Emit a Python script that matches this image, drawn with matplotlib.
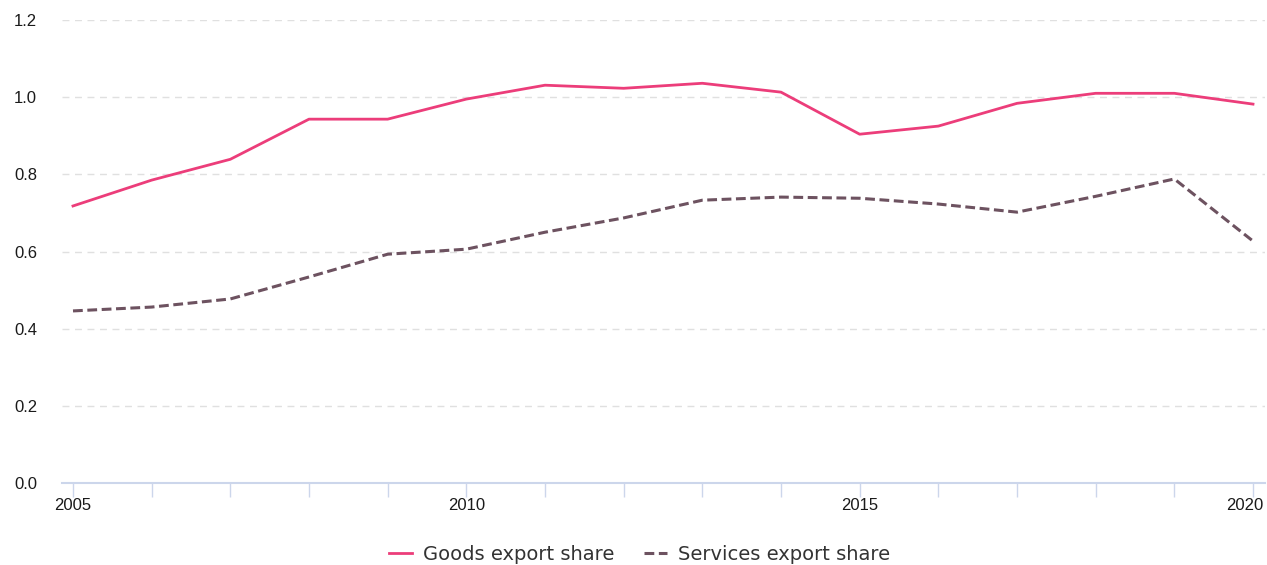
import matplotlib
matplotlib.use("Agg")
import matplotlib.pyplot as plt
from matplotlib.transforms import ScaledTranslation

years = list(range(2005, 2021))
goods = [0.718, 0.785, 0.839, 0.943, 0.943, 0.995, 1.031, 1.023, 1.036, 1.013,
         0.904, 0.925, 0.984, 1.010, 1.010, 0.982]
services = [0.446, 0.456, 0.477, 0.534, 0.593, 0.606, 0.650, 0.687, 0.733, 0.741,
            0.738, 0.723, 0.702, 0.743, 0.788, 0.627]
yticks = [0.0, 0.2, 0.4, 0.6, 0.8, 1.0, 1.2]
xlabels = [2005, 2010, 2015, 2020]

fig = plt.figure(figsize=(12.67, 5.65), dpi=100)
ax = fig.add_axes([62/1267, 1-483/565, (1265-62)/1267, (483-20)/565])

ax.plot(years, goods, color="#EC3D7A", lw=2.0, label="Goods export share", zorder=3)
ax.plot(years, services, color="#6D5260", lw=2.2, dashes=(3.2, 1.5), label="Services export share", zorder=3)

ax.set_ylim(0, 1.2)
ax.set_xlim(2005 - 11/78.67, 2020 + 12/78.67)
ax.set_yticks(yticks)
ax.set_yticklabels([f"{v:.1f}" for v in yticks], fontfamily="Liberation Sans", fontsize=12, color="#1a1a1a")
ax.set_xticks(years)
ax.set_xticklabels([str(y) if y in xlabels else "" for y in years],
                   fontfamily="Liberation Sans", fontsize=12, color="#1a1a1a")
ax.tick_params(axis="y", length=0, pad=18)
ax.tick_params(axis="x", length=10, width=1, color="#ccd6eb", pad=1)

# shift the last label left so it stays inside the figure
last = ax.get_xticklabels()[-1]
last.set_transform(last.get_transform() + ScaledTranslation(-8/100, 0, fig.dpi_scale_trans))

for v in yticks[1:]:
    ax.axhline(v, color="#e0e0e0", lw=1, dashes=(5, 4), zorder=1)

for s in ["top", "right", "left"]:
    ax.spines[s].set_visible(False)
ax.spines["bottom"].set_color("#ccd6eb")
ax.spines["bottom"].set_linewidth(1.5)

fig.legend(loc="center", bbox_to_anchor=(0.5 + 6/1267, 1-554/565), ncol=2, frameon=False,
           prop={"family": "DejaVu Sans", "size": 14}, handlelength=1.2,
           columnspacing=1.5, handletextpad=0.55, labelcolor="#333333")

fig.savefig("out.png", dpi=100)
